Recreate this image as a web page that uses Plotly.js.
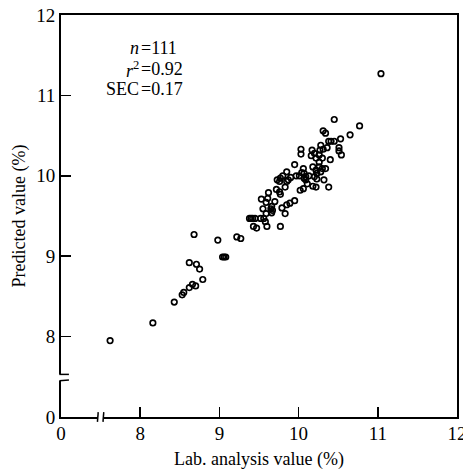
<!DOCTYPE html>
<html><head><meta charset="utf-8">
<script src="https://cdn.plot.ly/plotly-3.0.1.min.js"></script>
<style>html,body{margin:0;padding:0;background:#fff}</style>
</head><body>
<div id="chart" style="width:463px;height:474px"></div>
<script>
// Lab. analysis value (%) and predicted value (%)
const labValues = [7.62,8.16,8.43,8.53,8.55,8.62,8.66,8.70,8.62,8.71,8.75,8.79,8.68,8.98,9.04,9.06,9.08,9.22,9.27,
  9.38,9.40,9.42,9.45,9.43,9.47,9.53,9.55,9.56,9.58,9.60,9.59,9.62,9.59,9.66,9.66,9.70,9.67,9.77,9.83,9.79,9.85,9.89,9.95,
  9.72,9.76,9.77,9.73,9.77,9.80,9.83,9.85,9.85,9.90,9.95,9.97,10.01,10.03,10.03,10.02,10.06,10.06,10.07,10.09,10.11,10.13,
  10.18,10.22,10.16,10.17,10.20,10.22,10.18,10.22,10.23,10.26,10.28,10.30,10.26,10.28,10.30,10.31,10.34,10.36,10.31,10.34,
  10.38,10.41,10.45,10.40,10.38,10.45,10.51,10.51,10.53,10.54,10.65,10.77,11.04,10.23,10.32,10.09,9.76,9.87,10.26,10.20,
  9.65,9.52,10.07,10.27,10.04,9.61];
const predValues = [7.95,8.17,8.43,8.52,8.55,8.61,8.65,8.63,8.92,8.90,8.84,8.71,9.27,9.20,8.99,8.99,8.99,9.24,9.22,
  9.47,9.47,9.47,9.47,9.37,9.35,9.71,9.59,9.47,9.43,9.37,9.67,9.79,9.53,9.62,9.54,9.68,9.57,9.37,9.53,9.60,9.64,9.66,9.69,
  9.83,9.80,9.77,9.95,9.97,10.00,9.86,10.05,9.93,9.98,10.14,10.00,10.00,10.33,10.27,9.82,9.84,10.09,10.03,9.99,9.90,10.00,
  9.87,9.86,10.25,10.32,10.28,10.22,10.11,10.07,10.03,10.11,10.05,10.09,10.26,10.38,10.22,10.33,10.09,10.35,10.56,10.53,
  10.43,10.43,10.43,10.20,9.86,10.70,10.35,10.31,10.46,10.26,10.51,10.62,11.27,9.96,9.95,9.95,9.93,9.95,10.17,9.99,
  9.59,9.47,9.97,10.32,10.04,9.72];
const tickVals = [7,8,9,10,11,12];
const tickText = ['0','8','9','10','11','12'];
const statLabels = ['<i>n</i>','<i>r</i><sup>2</sup>','SEC'];
const statValues = ['=111','=0.92','=0.17'];

const font = {family:'"Liberation Serif", "DejaVu Serif", serif', size:18, color:'#000'};
const tickFont = {...font, size:19};
const ys = [0.918,0.865,0.815];
const annotations = [];
statLabels.forEach((t,i)=>{
  annotations.push({xref:'paper',yref:'paper',x:0.2,y:ys[i],xanchor:'right',yanchor:'middle',text:t,showarrow:false,borderpad:0,font:{...font,size:18}});
  annotations.push({xref:'paper',yref:'paper',x:0.2,y:ys[i],xanchor:'left',yanchor:'middle',text:statValues[i],showarrow:false,borderpad:0,font:{...font,size:18}});
});
const shapes = [
  // x-axis break
  {type:'rect',xref:'x',yref:'paper',x0:7.46,x1:7.54,y0:-0.006,y1:0.006,fillcolor:'#fff',line:{width:0}},
  {type:'line',xref:'x',yref:'paper',x0:7.46,x1:7.47,y0:-0.012,y1:0.012,line:{color:'#000',width:1.5}},
  {type:'line',xref:'x',yref:'paper',x0:7.53,x1:7.54,y0:-0.012,y1:0.012,line:{color:'#000',width:1.5}},
  // y-axis break
  {type:'rect',xref:'paper',yref:'y',x0:-0.008,x1:0.008,y0:7.45,y1:7.53,fillcolor:'#fff',line:{width:0}},
  {type:'line',xref:'paper',yref:'y',x0:-0.004,x1:0.02,y0:7.53,y1:7.53,line:{color:'#000',width:1.5}},
  {type:'line',xref:'paper',yref:'y',x0:-0.004,x1:0.02,y0:7.45,y1:7.46,line:{color:'#000',width:1.5}}
];
const axisCommon = {range:[7,12],tickmode:'array',tickvals:tickVals,ticktext:tickText,ticks:'inside',ticklen:10,tickwidth:1.5,
  tickcolor:'#000',showline:true,linecolor:'#000',linewidth:2,mirror:true,showgrid:false,zeroline:false,tickfont:tickFont,
  ticklabeloverflow:'allow',fixedrange:true};
Plotly.newPlot('chart',[{
  x:labValues,y:predValues,mode:'markers',type:'scatter',
  marker:{symbol:'circle-open',size:5.5,color:'#000',line:{width:1.7,color:'#000'}},hoverinfo:'none'
}],{
  width:463,height:474,margin:{l:61,r:6,t:15,b:57},
  paper_bgcolor:'#fff',plot_bgcolor:'#fff',showlegend:false,
  xaxis:{...axisCommon,ticklabelstandoff:-2,title:{text:'Lab. analysis value (%)',font:font,standoff:10}},
  yaxis:{...axisCommon,title:{text:'Predicted value (%)',font:font,standoff:6}},
  annotations:annotations,shapes:shapes
},{staticPlot:true});
</script>
</body></html>
